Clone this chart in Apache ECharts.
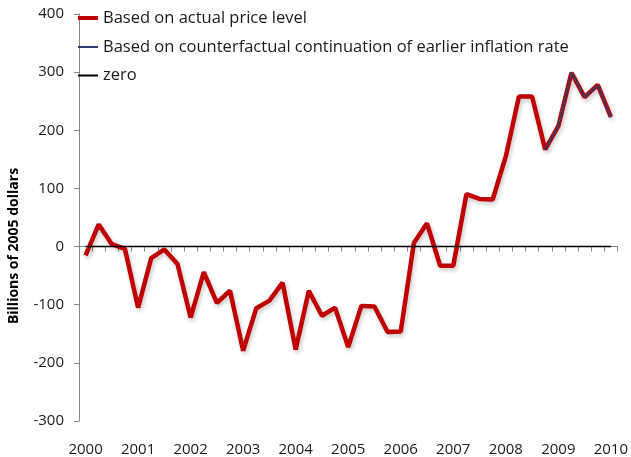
<!DOCTYPE html>
<html>
<head>
<meta charset="utf-8">
<script src="https://cdn.jsdelivr.net/npm/echarts@6/dist/echarts.min.js"></script>
<style>
  html, body { margin: 0; padding: 0; background: #fff; }
  #chart { width: 631px; height: 457px; }
</style>
</head>
<body>
<div id="chart"></div>
<script>
// quarters 2000Q1 .. 2010Q1
var quarters = [];
for (var y = 2000; y <= 2010; y++) {
  for (var q = 1; q <= 4; q++) {
    if (y == 2010 && q > 1) break;
    quarters.push(y + 'Q' + q);
  }
}

var actual = [-15, 38, 4, -4, -105, -20, -5, -30,
  -122, -44, -97, -76, -179, -106, -93, -62,
  -177, -76, -119, -105, -173, -102, -103, -147,
  -146, 6, 40, -33, -33, 90, 82, 81,
  155, 258, 258, 167, 207, 299, 257, 278,
  223];

// counterfactual only visible from 2008Q4
var counterfactual = [null, null, null, null, null, null, null, null,
  null, null, null, null, null, null, null, null,
  null, null, null, null, null, null, null, null,
  null, null, null, null, null, null, null, null,
  null, null, null, 167, 207, 300, 257, 277,
  222];

var zero = quarters.map(function () { return 0; });

var yTicks = [-300, -200, -100, 0, 100, 200, 300, 400];

var font = 'Open Sans';
var legendText = { fontFamily: font, fontSize: 16.5, color: '#1a1a1a', lineHeight: 18 };

var chartDom = document.getElementById('chart');
var myChart = echarts.init(chartDom);
var option = {
  animation: false,
  textStyle: { fontFamily: font },
  grid: { left: 79, right: 13, top: 14, bottom: 35 },
  legend: [
    {
      orient: 'vertical',
      left: 78,
      top: 9,
      padding: 0,
      itemWidth: 20,
      itemHeight: 4,
      icon: 'rect',
      textStyle: legendText,
      data: ['Based on actual price level']
    },
    {
      orient: 'vertical',
      left: 78,
      top: 38,
      padding: 0,
      itemGap: 10.5,
      itemWidth: 20,
      itemHeight: 2,
      icon: 'rect',
      textStyle: legendText,
      data: ['Based on counterfactual continuation of earlier inflation rate', 'zero']
    }
  ],
  graphic: [{
    type: 'text',
    x: 14,
    y: 246,
    rotation: Math.PI / 2,
    style: {
      text: 'Billions of 2005 dollars',
      font: 'bold 14px "Open Sans"',
      fill: '#000',
      align: 'center',
      verticalAlign: 'middle'
    }
  }],
  xAxis: {
    type: 'category',
    data: quarters,
    boundaryGap: true,
    axisLine: { lineStyle: { color: '#868686', width: 1 } },
    axisTick: { show: true, interval: 0, length: 5, lineStyle: { color: '#868686' } },
    axisLabel: {
      interval: 3,
      margin: 21,
      fontSize: 15,
      color: '#1a1a1a',
      formatter: function (v) { return v.slice(0, 4); }
    },
    splitLine: { show: false }
  },
  yAxis: {
    type: 'value',
    min: yTicks[0],
    max: yTicks[yTicks.length - 1],
    interval: 100,
    axisLine: { show: true, lineStyle: { color: '#868686', width: 1 } },
    axisTick: { show: true, length: 5, lineStyle: { color: '#868686' } },
    axisLabel: { margin: 15, fontSize: 15, color: '#1a1a1a' },
    splitLine: { show: false }
  },
  series: [
    {
      name: 'Based on actual price level',
      type: 'line',
      data: actual,
      symbol: 'none',
      lineStyle: {
        color: '#c00000', width: 4.5,
        shadowColor: 'rgba(0,0,0,0.22)', shadowBlur: 4, shadowOffsetX: 1.5, shadowOffsetY: 2.5
      },
      itemStyle: { color: '#c00000' }
    },
    {
      name: 'Based on counterfactual continuation of earlier inflation rate',
      type: 'line',
      data: counterfactual,
      symbol: 'none',
      lineStyle: { color: '#2f3f6b', width: 1.8 },
      itemStyle: { color: '#2f3f6b' }
    },
    {
      name: 'zero',
      type: 'line',
      data: zero,
      symbol: 'none',
      lineStyle: { color: '#000', width: 1.5 },
      itemStyle: { color: '#000' }
    }
  ]
};
option && myChart.setOption(option);
</script>
</body>
</html>
